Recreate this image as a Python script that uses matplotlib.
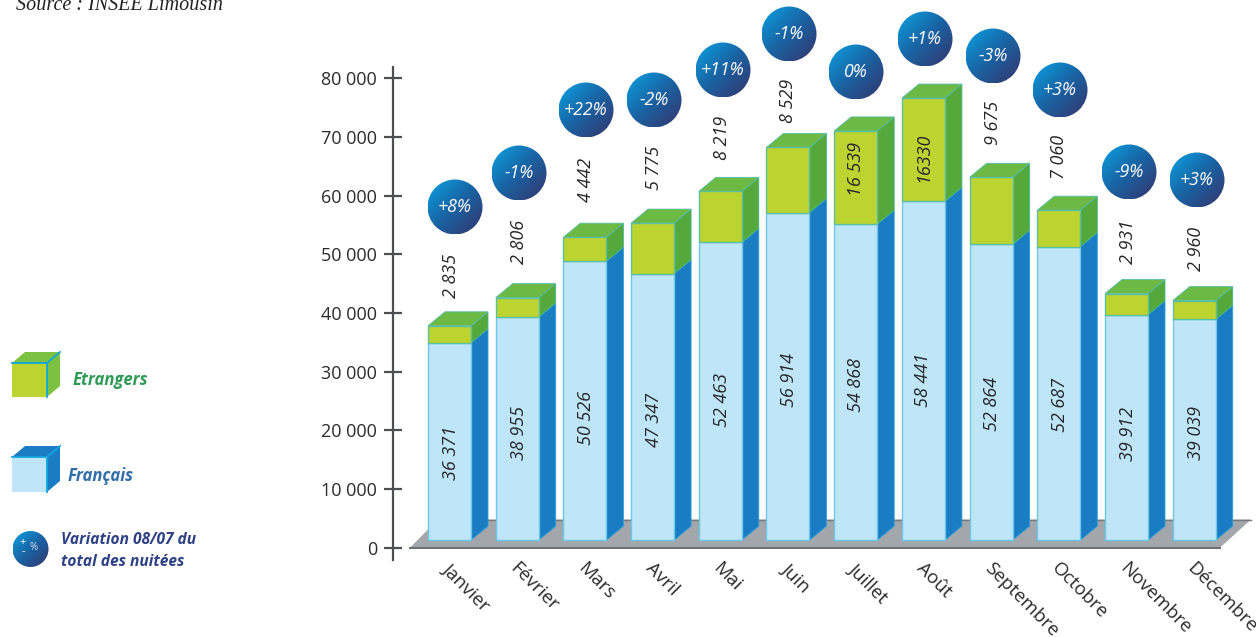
#!/usr/bin/env python3
import numpy as np
import matplotlib
matplotlib.use("Agg")
import matplotlib.pyplot as plt
from matplotlib.patches import Circle, Polygon
from matplotlib.colors import LinearSegmentedColormap
from matplotlib.transforms import Affine2D, ScaledTranslation

# donnees
mois = ["Janvier", "Février", "Mars", "Avril", "Mai", "Juin", "Juillet", "Août",
        "Septembre", "Octobre", "Novembre", "Décembre"]
francais = ["36 371", "38 955", "50 526", "47 347", "52 463", "56 914", "54 868",
            "58 441", "52 864", "52 687", "39 912", "39 039"]
etrangers = ["2 835", "2 806", "4 442", "5 775", "8 219", "8 529", "16 539",
             "16330", "9 675", "7 060", "2 931", "2 960"]
variation = ["+8%", "-1%", "+22%", "-2%", "+11%", "-1%", "0%", "+1%", "-3%", "+3%", "-9%", "+3%"]
# le dessin d'origine ne suit pas tout a fait ses etiquettes : hauteurs lues sur l'axe
haut_francais = [34900, 39300, 48800, 46700, 52000, 57100, 55100, 59000, 51700, 51300, 39700, 38900]
haut_total = [37800, 42600, 52900, 55300, 60700, 68200, 71000, 76600, 63100, 57500, 43300, 42100]
graduations = [0, 10000, 20000, 30000, 40000, 50000, 60000, 70000, 80000]
grad_labels = ["0", "10 000", "20 000", "30 000", "40 000", "50 000", "60 000", "70 000", "80 000"]

# placement des textes et des bulles, en pixels de l'image
pos_francais = [(451, 453), (519, 433), (586, 418), (654, 420), (722, 400), (789, 380),
                (856, 385), (923, 380), (992, 404), (1060, 405), (1128, 434), (1196, 433)]
pos_etrangers = [(451, 276), (519, 242), (586, 180), (654, 168), (722, 138), (788, 101),
                 (856, 169), (923, 157), (993, 123), (1059, 157), (1128, 242), (1196, 249)]
pos_bulles = [(455, 207), (519, 173), (586, 110), (654, 100), (723, 70), (789, 34),
              (856, 72), (925, 39), (993, 56), (1060, 90), (1129, 172), (1197, 180)]

W, H = 1256, 637
PX_MOIS = 67.7      # ecart entre deux barres
X0 = 449.5          # centre de la premiere barre
Y0 = 547.7          # pixel du zero
PX_1000 = 5.87      # pixels pour 1000 nuitees
SOCLE = 1300
LARG = 43 / PX_MOIS
DX = 17 / PX_MOIS
DY = 14 / PX_1000 * 1000

plt.rcParams['font.family'] = ['Open Sans', 'DejaVu Sans']

fig = plt.figure(figsize=(W / 100, H / 100), dpi=100)
ax = fig.add_axes([0, 0, 1, 1])
ax.patch.set_alpha(0)
px = Affine2D().scale(1, -1).translate(0, H)  # coordonnees image
degrade = LinearSegmentedColormap.from_list("bulle", ["#0e93d3", "#1a62a2", "#2f3f78"])


def bulle(x, y, r, zorder=5):
    u, v = np.meshgrid(np.linspace(0, 1, 80), np.linspace(0, 1, 80))
    im = ax.imshow((u + v) / 2, cmap=degrade, extent=(x - r, x + r, y + r, y - r),
                   transform=px, aspect='auto', zorder=zorder, vmin=0.12, vmax=0.88)
    im.set_clip_path(Circle((x, y), r, transform=px))


def cube_legende(y_haut, y_bas, face, cote, dessus, bord):
    g, d, dx, dy = 12, 47, 13, 11
    ax.add_patch(Polygon([(d, y_haut), (d + dx, y_haut - dy), (d + dx, y_bas - dy), (d, y_bas)],
                         fc=cote, ec='none', transform=px))
    ax.add_patch(Polygon([(g, y_haut), (g + dx, y_haut - dy), (d + dx, y_haut - dy), (d, y_haut)],
                         fc=dessus, ec='none', transform=px))
    ax.add_patch(Polygon([(g, y_haut), (d, y_haut), (d, y_bas), (g, y_bas)],
                         fc=face, ec='none', transform=px))
    ax.plot([g, d, d + dx], [y_haut, y_haut, y_haut - dy], color=bord, lw=1.3, transform=px)
    ax.plot([d, d], [y_haut, y_bas], color=bord, lw=1.3, transform=px)


# sol gris
ax.add_patch(Polygon([(410, 547.7), (438, 519.5), (1251, 519.5), (1220, 547.7)], fc='#a3a6aa',
                     ec='none', transform=px, zorder=1))
ax.plot([438, 1251], [519.5, 519.5], color='#77797c', lw=1, transform=px, zorder=1)

x = np.arange(len(mois))
h_fr = np.array(haut_francais)
h_tot = np.array(haut_total)

ax.bar(x, h_fr - SOCLE, LARG, bottom=SOCLE, color='#bfe5f8', edgecolor='#6cc8ea', linewidth=1.0, zorder=3)
ax.bar(x, h_tot - h_fr, LARG, bottom=h_fr, color='#bbd430', edgecolor='#5cbfa0', linewidth=1.0, zorder=3)

for i in x:
    d = i + LARG / 2
    g = i - LARG / 2
    ax.add_patch(Polygon([(d, SOCLE), (d + DX, SOCLE + DY), (d + DX, h_fr[i] + DY), (d, h_fr[i])],
                         fc='#1a7cc2', ec='#2a9fd8', lw=0.6, zorder=2))
    ax.add_patch(Polygon([(d, h_fr[i]), (d + DX, h_fr[i] + DY), (d + DX, h_tot[i] + DY), (d, h_tot[i])],
                         fc='#55a83c', ec='#45b890', lw=0.6, zorder=2))
    ax.add_patch(Polygon([(g, h_tot[i]), (g + DX, h_tot[i] + DY), (d + DX, h_tot[i] + DY), (d, h_tot[i])],
                         fc='#6cb944', ec='#55bfa8', lw=0.6, zorder=2))

# etiquettes de valeurs
for txt, (px_x, px_y) in zip(francais, pos_francais):
    ax.text(px_x, px_y, txt, transform=px, rotation=90, style='italic', fontsize=13,
            color='#262626', ha='center', va='center', zorder=6)
for txt, (px_x, px_y) in zip(etrangers, pos_etrangers):
    ax.text(px_x, px_y, txt, transform=px, rotation=90, style='italic', fontsize=13,
            color='#262626', ha='center', va='center', zorder=6)

for txt, (px_x, px_y) in zip(variation, pos_bulles):
    bulle(px_x, px_y, 27.5)
    ax.text(px_x, px_y, txt, transform=px, style='italic', fontsize=12.8, color='white',
            ha='center', va='center', zorder=6)

# axes
ax.set_xlim(-X0 / PX_MOIS, (W - X0) / PX_MOIS)
ax.set_ylim((Y0 - H) / PX_1000 * 1000, Y0 / PX_1000 * 1000)
for cote in ['top', 'right']:
    ax.spines[cote].set_visible(False)
ax.spines['left'].set_position(('data', (393 - X0) / PX_MOIS))
ax.spines['left'].set_bounds((Y0 - 560) / PX_1000 * 1000, (Y0 - 67) / PX_1000 * 1000)
ax.spines['left'].set_color('#4d4f53')
ax.spines['left'].set_linewidth(1.6)
ax.spines['bottom'].set_position(('data', 0))
ax.spines['bottom'].set_bounds((410 - X0) / PX_MOIS, (1220 - X0) / PX_MOIS)
ax.spines['bottom'].set_color('#6a6d70')
ax.spines['bottom'].set_linewidth(1.4)
ax.set_yticks(graduations)
ax.set_yticklabels(grad_labels, fontsize=13, color='#2b2b2b')
ax.tick_params(axis='y', direction='inout', length=13, width=1.6, color='#4d4f53', pad=5)
ax.set_xticks(x)
ax.set_xticklabels(mois, fontsize=13.5, color='#2b2b2b', rotation=-45, ha='left', va='center',
                   rotation_mode='anchor')
ax.tick_params(axis='x', length=0, pad=13)
decal = ScaledTranslation(-3 / 72, 0, fig.dpi_scale_trans)
for lab in ax.get_xticklabels():
    lab.set_transform(lab.get_transform() + decal)

# legende
cube_legende(363, 397, '#bbd430', '#7cc242', '#7cc242', '#12a5e0')
ax.text(73, 380, "Etrangers", transform=px, style='italic', weight='bold', fontsize=12,
        color='#2f9a55', va='center')
cube_legende(457, 492, '#bfe5f8', '#1a7cc2', '#1a7cc2', '#12a5e0')
ax.text(68, 476, "Français", transform=px, style='italic', weight='bold', fontsize=12,
        color='#2f6ea8', va='center')
bulle(30.5, 549, 18)
ax.text(23, 543, "+", transform=px, fontsize=8, color='white', ha='center', va='center', zorder=6)
ax.text(23, 552, "-", transform=px, fontsize=8, color='white', ha='center', va='center', zorder=6)
ax.text(34, 548, "%", transform=px, fontsize=7, color='#d8e4f0', ha='center', va='center', zorder=6)
ax.text(61, 540, "Variation 08/07 du", transform=px, style='italic', weight='bold', fontsize=11.2,
        color='#2d4184', va='center')
ax.text(61, 562, "total des nuitées", transform=px, style='italic', weight='bold', fontsize=11.2,
        color='#2d4184', va='center')

ax.text(16, 5, "Source : INSEE Limousin", transform=px, style='italic', fontsize=14.5,
        family='Liberation Serif', color='#222222', va='center')

fig.savefig("out.png", dpi=100)
